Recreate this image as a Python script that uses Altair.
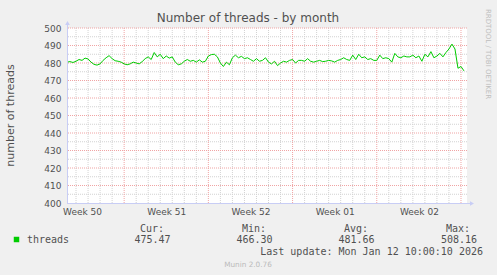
import altair as alt
import pandas as pd

# ---- data ----
values = [
    480.5, 480.8, 480.3, 481.0, 482.0, 481.5, 482.8, 482.3,
    480.5, 479.2, 478.8,
    479.5, 481.5, 483.0, 484.2,
    482.5, 481.3, 481.0, 480.5,
    479.5, 479.0, 479.5,
    480.5, 480.0, 479.5, 480.8,
    482.5, 483.5, 482.0, 486.0,
    483.5, 485.0, 482.5, 484.0, 482.8, 483.5,
    480.5, 479.0, 479.5,
    481.0, 482.0, 481.0, 481.5, 480.5, 481.8,
    480.5, 481.0,
    484.0, 484.8, 485.0, 483.5,
    480.0, 478.0, 480.5, 479.0,
    483.0, 484.5, 483.0, 483.8, 482.5, 483.0,
    482.0, 481.0, 482.5, 481.0, 481.5, 483.0,
    480.5, 479.5, 481.0, 478.5, 480.0,
    481.0, 480.5, 481.5, 482.0, 480.0, 481.5,
    481.5, 481.0, 482.5, 481.0, 480.5,
    481.0, 481.5, 480.8, 481.0, 481.5, 481.2, 480.5, 481.5, 482.0,
    483.0, 482.0, 481.5, 484.5, 482.0, 485.0,
    483.0, 483.5, 482.0, 482.5, 481.5,
    481.5, 484.5, 482.5, 483.0, 482.5,
    480.5, 485.5, 483.5, 483.0, 484.0, 483.5, 483.5, 484.5, 483.0, 484.0,
    481.0, 485.0, 483.5, 486.5, 483.0,
    484.0, 485.5, 483.5, 486.0,
    488.0, 490.8, 488.0,
    477.0, 478.0, 475.5,
]
start = "2025-12-10 06:00"
end = "2026-01-12 12:00"
week_starts = ["2025-12-15", "2025-12-22", "2025-12-29", "2026-01-05", "2026-01-12"]
week_labels = ["Week 50", "Week 51", "Week 52", "Week 01", "Week 02"]
y_ticks = [400, 410, 420, 430, 440, 450, 460, 470, 480, 490, 500]
y_minor = [405, 415, 425, 435, 445, 455, 465, 475, 485, 495]
legend_cur, legend_min, legend_avg, legend_max = "475.47", "466.30", "481.66", "508.16"
last_update = "Last update: Mon Jan 12 10:00:10 2026"

# ---- derived tables ----
t0 = pd.Timestamp(start)
hr = pd.Timedelta(hours=1)
times = pd.date_range(t0, periods=len(values), freq="6h")
line_df = pd.DataFrame({"h": (times - t0) / hr, "v": values})
x_max = (pd.Timestamp(end) - t0) / hr

week_ts = pd.to_datetime(week_starts)
week_h = [float((w - t0) / hr) for w in week_ts]
label_h = [float((w - pd.Timedelta(days=3.5) - t0) / hr) for w in week_ts]
days = pd.date_range("2025-12-11", "2026-01-12", freq="D")
day_h = [float((d - t0) / hr) for d in days if d not in set(week_ts)]

vminor = pd.DataFrame({"h": day_h})
vmajor = pd.DataFrame({"h": week_h})
hminor = pd.DataFrame({"v": y_minor})
hmajor = pd.DataFrame({"v": [v for v in y_ticks if v > 400]})

# ---- style ----
L, T = 67, 28
W, H = 400, 175
TXT = "#505050"
SANS = "DejaVu Sans"
MONO = "DejaVu Sans Mono"
GRID = "#D2D2D2"
MGRID = "#F0A4A4"
AXIS = "#C8CDF5"

xs = alt.Scale(domain=[0, x_max], nice=False, zero=False)
ys = alt.Scale(domain=[400, 500], nice=False, zero=False)

expr = f"'{week_labels[-1]}'"
for h, t in reversed(list(zip(week_h[:-1], week_labels[:-1]))):
    expr = f"datum.value < {h} ? '{t}' : ({expr})"

ax_x = alt.Axis(values=label_h, labelExpr=expr,
                grid=False, ticks=False, domain=False, labelFlush=False, labelOverlap=False,
                labelFont=SANS, labelFontSize=9, labelColor=TXT, labelPadding=4, title="")
ax_y = alt.Axis(values=y_ticks, grid=False, ticks=False, domain=False, labelOverlap=False,
                labelFlush=False,
                labelFont=SANS, labelFontSize=9, labelColor=TXT, labelPadding=6, title="")

gx = alt.X("h:Q", scale=xs, axis=ax_x)
gy = alt.Y("v:Q", scale=ys, axis=ax_y)

one = pd.DataFrame({"k": [0]})


def txt(s, px, py, size=10, align="left", color=TXT, font=MONO, angle=0, baseline="alphabetic"):
    kw = dict(align=align, baseline=baseline, fontSize=size, color=color, font=font)
    if angle:
        kw["angle"] = angle
    return alt.Chart(one).mark_text(**kw).encode(
        x=alt.value(px - L), y=alt.value(py - T), text=alt.value(s))


layers = [
    alt.Chart(vminor).mark_rule(color=GRID, strokeDash=[1, 1], strokeWidth=1).encode(x=gx),
    alt.Chart(hminor).mark_rule(color=GRID, strokeDash=[1, 1], strokeWidth=1).encode(y=gy),
    alt.Chart(vmajor).mark_rule(color=MGRID, strokeDash=[1, 1], strokeWidth=1).encode(x=gx),
    alt.Chart(hmajor).mark_rule(color=MGRID, strokeDash=[1, 1], strokeWidth=1).encode(y=gy),
    alt.Chart(line_df).mark_line(color="#00CC00", strokeWidth=1).encode(x=gx, y=gy),
    # axis lines + arrows
    alt.Chart(one).mark_rule(color=AXIS, strokeWidth=1).encode(
        x=alt.value(0), x2=alt.value(W + 4), y=alt.value(H + 0.5)),
    alt.Chart(one).mark_rule(color=AXIS, strokeWidth=1).encode(
        x=alt.value(0.5), y=alt.value(-4), y2=alt.value(H)),
    alt.Chart(one).mark_point(shape="triangle-right", filled=True, color=AXIS, opacity=1, size=22).encode(
        x=alt.value(W + 5), y=alt.value(H + 0.5)),
    alt.Chart(one).mark_point(shape="triangle-up", filled=True, color=AXIS, opacity=1, size=22).encode(
        x=alt.value(0.5), y=alt.value(-5)),
    # title & side texts
    txt("Number of threads - by month", 248, 22, size=12, align="center", font=SANS),
    txt("number of threads", 11, 115.5, size=11, align="center", font=SANS, angle=270, baseline="middle"),
    txt("RRDTOOL / TOBI OETIKER", 488, 54, size=7, align="center", font=SANS, angle=90,
        baseline="middle", color="#BEBEBE"),
    # legend
    alt.Chart(one).mark_square(color="#00CC00", filled=True, opacity=1, size=30).encode(
        x=alt.value(16.5 - L), y=alt.value(239.5 - T)),
    txt("threads", 27, 243),
    txt("Cur:", 164, 232, align="right"),
    txt(legend_cur, 170.5, 243, align="right"),
    txt("Min:", 266, 232, align="right"),
    txt(legend_min, 272.5, 243, align="right"),
    txt("Avg:", 368, 232, align="right"),
    txt(legend_avg, 374.5, 243, align="right"),
    txt("Max:", 470, 232, align="right"),
    txt(legend_max, 477, 243, align="right"),
    txt(last_update, 483, 254.5, align="right"),
    txt("Munin 2.0.76", 248, 267, size=7.3, align="center", font=SANS, color="#BBBBBB"),
]

chart = alt.layer(*layers).properties(
    width=W, height=H,
    padding={"left": L, "top": T, "right": 497 - L - W, "bottom": 275 - T - H},
    autosize=alt.AutoSizeParams(type="none"),
    background="#F0F0F0",
).configure_view(fill="white", strokeWidth=0)

chart.save("out.html", embed_options={"renderer": "svg", "actions": False})
